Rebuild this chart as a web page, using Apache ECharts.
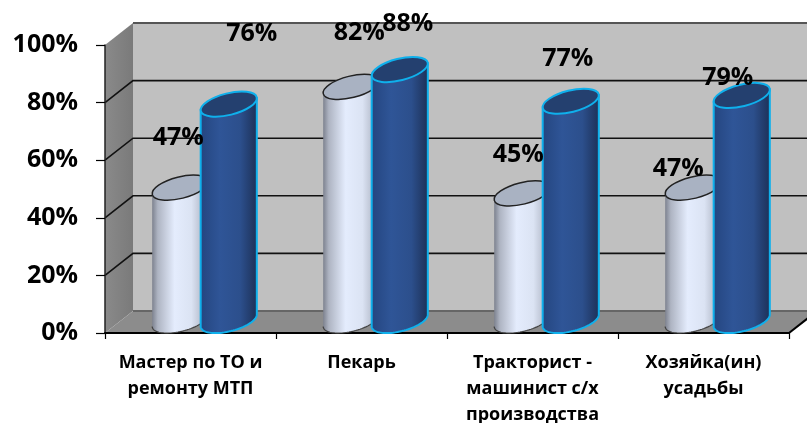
<!DOCTYPE html>
<html><head><meta charset="utf-8">
<style>html,body{margin:0;padding:0;background:#fff}#c{width:807px;height:423px}</style>
<script src="https://cdn.jsdelivr.net/npm/echarts@6/dist/echarts.min.js"></script>
</head><body><div id="c"></div>
<script>
const categories = ["Мастер по ТО и\nремонту МТП", "Пекарь", "Тракторист -\nмашинист с/х\nпроизводства", "Хозяйка(ин)\nусадьбы"];
const whiteValues = [47, 82, 45, 47];
const blueValues = [76, 88, 77, 79];
const yTicks = [0, 20, 40, 60, 80, 100];
const whiteLabelShift = [[-2,-47],[8,-51],[-4,-36],[-15,-16]];
const blueLabelShift = [[23,-68],[8,-43],[-3,-40],[-14,-15]];

const FONT = '"Open Sans", sans-serif';
const DX = 28, DY = 22, BASE_DY = 12.5, TOP_DY = 10, MID_DX = 14, BAR_SEP = 24.25;
const A = 28.8, B = 10.8, TH = 14 * Math.PI / 180;
const T0 = Math.atan2(B * Math.sin(TH), A * Math.cos(TH));

function rim(cx, cy, t) {
  return [cx + A * Math.cos(t) * Math.cos(TH) + B * Math.sin(t) * Math.sin(TH),
          cy - A * Math.cos(t) * Math.sin(TH) + B * Math.sin(t) * Math.cos(TH)];
}
function frontArc(cx, cy) {
  const pts = [];
  for (let k = 0; k <= 40; k++) pts.push(rim(cx, cy, T0 + Math.PI * (1 - k / 40)));
  return pts;
}

function cylinderRenderer(side, body, cap, stroke) {
  return function (params, api) {
    const p = api.coord([api.value(0), api.value(1)]);
    const p0 = api.coord([api.value(0), 0]);
    const cx = p[0] + MID_DX + side * BAR_SEP;
    const top = p[1] - TOP_DY, bot = p0[1] - BASE_DY;
    const arc = frontArc(cx, bot);
    const outline = [rim(cx, top, T0 + Math.PI)].concat(arc, [rim(cx, top, T0)]);
    const kids = [
      { type: 'polygon', shape: { points: outline },
        style: { fill: { type:'linear', x:0,y:0,x2:1,y2:0, colorStops: body },
                 stroke: side > 0 ? stroke : 'none', lineWidth: 2 } }
    ];
    if (side < 0) kids.push({ type:'polyline', shape:{ points: arc }, style:{ fill:'none', stroke:'#444', lineWidth:1.2 } });
    kids.push({ type: 'ellipse', shape: { cx: 0, cy: 0, rx: A, ry: B }, x: cx, y: top, rotation: TH,
        style: { fill: cap, stroke: stroke, lineWidth: side > 0 ? 2 : 1.5 } });
    return { type: 'group', children: kids };
  };
}

const option = {
  animation: false,
  backgroundColor: '#fff',
  grid: { left: 105, right: 18, top: 45, bottom: 90, outerBoundsMode: 'none' },
  xAxis: { type: 'category', data: categories, z: 1,
    axisLine: { show: true, lineStyle: { color: '#000', width: 2 } },
    axisTick: { show: true, alignWithLabel: false, length: 6, lineStyle: { color: '#000', width: 1.2 } },
    axisLabel: { interval: 0, margin: 17, color: '#000', fontFamily: FONT, fontWeight: 'bold', fontSize: 18, lineHeight: 26 } },
  yAxis: { type: 'value', min: 0, max: 100, interval: 20, z: 1,
    axisLine: { show: true, lineStyle: { color: '#222', width: 1.5 } },
    axisTick: { show: true, length: 9, lineStyle: { color: '#000', width: 1.2 } },
    splitLine: { show: false },
    axisLabel: { margin: 27, padding: [3, 0, 0, 0], color: '#000', fontFamily: FONT, fontWeight: 'bold', fontSize: 25, formatter: '{value}%' } },
  series: [
    { type: 'custom', z: 0, silent: true, data: [[0, 0]], encode: { x: 0, y: 1 },
      renderItem(params, api) {
        const g = params.coordSys;
        const L = g.x, R = g.x + g.width, B0 = g.y + g.height, T = g.y;
        const farR = 830;
        const kids = [
          { type:'polygon', shape:{points:[[L+DX,T-DY],[farR,T-DY],[farR,B0-DY],[L+DX,B0-DY]]}, style:{fill:'#c0c0c0'} },
          { type:'polygon', shape:{points:[[L,T],[L+DX,T-DY],[L+DX,B0-DY],[L,B0]]},
            style:{fill:{type:'linear',x:0,y:0,x2:1,y2:0,colorStops:[{offset:0,color:'#8a8a8a'},{offset:1,color:'#7a7a7a'}]}} },
          { type:'polygon', shape:{points:[[L,B0],[L+DX,B0-DY],[R+DX,B0-DY],[R,B0]]}, style:{fill:'#8c8c8c'} },
          { type:'line', shape:{x1:L+DX,y1:B0-DY,x2:807,y2:B0-DY}, style:{stroke:'#666',lineWidth:2} },
          { type:'line', shape:{x1:R,y1:B0,x2:R+DX,y2:B0-DY}, style:{stroke:'#000',lineWidth:2} }
        ];
        yTicks.forEach(v => {
          if (v === 0) return;
          const y = api.coord([0, v])[1];
          const pts = v === 100 ? [[L+DX,y-DY],[farR,y-DY]] : [[L,y],[L+DX,y-DY],[farR,y-DY]];
          kids.push({ type:'polyline', shape:{points:pts},
            style:{fill:'none',stroke:v===100?'#555':'#111',lineWidth:v===100?2:1.6} });
        });
        return { type:'group', children:kids };
      } },
    { type: 'custom', z: 2, data: whiteValues.map((v,i)=>[i,v]), encode:{x:0,y:1},
      renderItem: cylinderRenderer(-1,
        [{offset:0,color:'#7d828f'},{offset:.1,color:'#aeb4c2'},{offset:.4,color:'#e4ecfd'},{offset:.7,color:'#dbe3f3'},{offset:1,color:'#a0a6b5'}],
        '#a9b2c2', '#222') },
    { type: 'custom', z: 3, data: blueValues.map((v,i)=>[i,v]), encode:{x:0,y:1},
      renderItem: cylinderRenderer(1,
        [{offset:0,color:'#24457f'},{offset:.35,color:'#2f5597'},{offset:.7,color:'#2c4f8c'},{offset:1,color:'#1c2f55'}],
        '#24406f', '#0fb0ec') },
    { type: 'custom', z: 4, silent: true,
      data: whiteValues.map((v,i)=>[i,v,-1]).concat(blueValues.map((v,i)=>[i,v,1])), encode:{x:0,y:1},
      renderItem(params, api) {
        const i = api.value(0), v = api.value(1), side = api.value(2);
        const p = api.coord([i, v]);
        const s = (side < 0 ? whiteLabelShift : blueLabelShift)[i];
        return { type:'text', x: p[0]+MID_DX+side*BAR_SEP+s[0], y: p[1]-BASE_DY+s[1],
          style:{ text: v+'%', fill:'#000', font:'bold 25px '+FONT, textAlign:'center', textVerticalAlign:'middle' } };
      } }
  ]
};
echarts.init(document.getElementById('c'), null, {renderer:'canvas'}).setOption(option);
</script></body></html>
